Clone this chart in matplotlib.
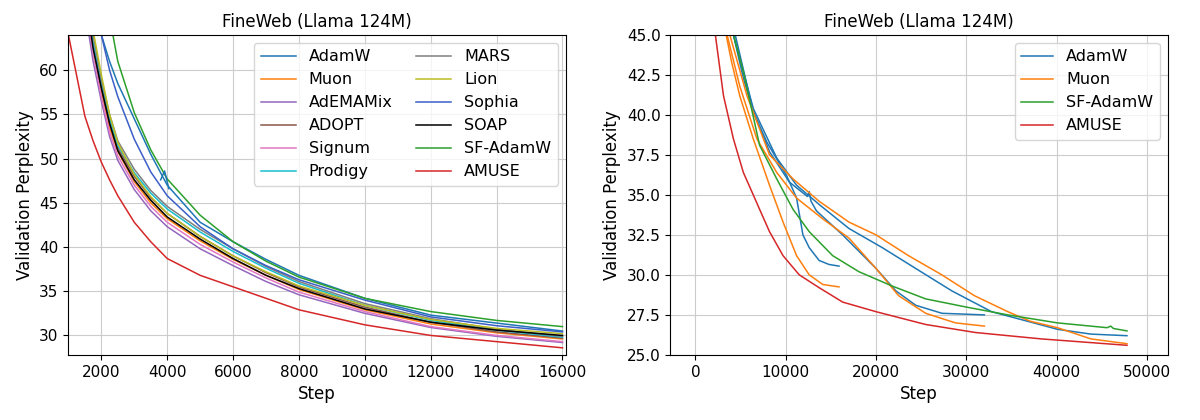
import numpy as np
import matplotlib
matplotlib.use("Agg")
import matplotlib.pyplot as plt

# ---- left panel: all optimizers, 16k steps ----
steps_l = [1000, 1500, 1750, 2000, 2250, 2500, 3000, 3500, 4000, 5000, 6000, 7000, 8000, 10000, 12000, 14000, 16000]
left_curves = {
    "AdamW":    ("#1f77b4", [90, 75, 68, 64, 61, 58.5, 54.5, 50.5, 47.0, 42.8, 40.6, 38.6, 36.8, 34.2, 32.3, 31.4, 30.5]),
    "Muon":     ("#ff7f0e", [85, 68, 62, 57.5, 53.5, 50.8, 47.4, 45.0, 43.2, 40.7, 38.6, 36.8, 35.2, 32.9, 31.3, 30.3, 29.6]),
    "AdEMAMix": ("#9467bd", [84, 67, 61, 56.5, 52.5, 49.8, 46.5, 44.1, 42.3, 39.8, 37.9, 36.1, 34.6, 32.5, 30.9, 29.9, 29.2]),
    "ADOPT":    ("#8c564b", [86, 69, 63, 58, 54, 51.2, 48.0, 45.6, 43.8, 41.2, 39.0, 37.1, 35.5, 33.2, 31.5, 30.4, 29.7]),
    "Signum":   ("#e377c2", [85, 68, 62, 57, 53, 50.3, 47.0, 44.6, 42.8, 40.3, 38.3, 36.5, 34.9, 32.7, 31.0, 30.0, 29.3]),
    "Prodigy":  ("#17becf", [86, 69, 63, 58.5, 54.5, 51.5, 48.4, 46.1, 44.3, 41.7, 39.5, 37.6, 35.9, 33.4, 31.7, 30.6, 29.8]),
    "MARS":     ("#7f7f7f", [87, 70, 64, 59, 55, 52, 48.8, 46.4, 44.6, 42.0, 39.8, 37.8, 36.1, 33.6, 31.9, 30.7, 29.9]),
    "Lion":     ("#bcbd22", [88, 71, 64.5, 59.5, 55, 51.8, 48.2, 45.7, 43.8, 41.2, 39.0, 37.2, 35.6, 33.4, 31.8, 30.8, 30.2]),
    "Sophia":   ("#3b5fc7", [95, 78, 70, 64, 60, 57, 52.2, 48.5, 45.8, 42.3, 39.8, 37.9, 36.3, 34.0, 32.1, 31.1, 30.4]),
    "SOAP":     ("#000000", [86, 69, 62.5, 58, 54, 50.9, 47.6, 45.3, 43.4, 40.9, 38.7, 36.8, 35.3, 33.0, 31.5, 30.6, 30.0]),
    "SF-AdamW": ("#2ca02c", [110, 90, 80, 72, 66, 61, 55.2, 51.0, 47.7, 43.6, 40.6, 38.4, 36.6, 34.2, 32.7, 31.7, 31.0]),
    "AMUSE":    ("#d62728", [64, 54.8, 52.0, 49.6, 47.6, 45.8, 42.8, 40.6, 38.7, 36.8, 35.5, 34.2, 32.9, 31.2, 30.0, 29.3, 28.6]),
}
adamw_spike_x = [3800, 3920, 4050]
adamw_spike_y = [47.6, 48.6, 46.6]

# ---- right panel: runs of several lengths ----
adamw_16k_x = [4200, 5300, 6400, 7900, 10100, 11200, 11900, 12600, 13700, 14800, 15900]
adamw_16k_y = [45, 42.3, 40.2, 38.3, 36.2, 34.8, 32.5, 31.7, 30.9, 30.65, 30.55]
adamw_32k_x = [4400, 6400, 8200, 10400, 12400, 12600, 12800, 13400, 16300, 20000, 22200, 24400, 27300, 32000]
adamw_32k_y = [45, 40.2, 37.7, 35.8, 34.9, 35.2, 34.6, 34.0, 32.5, 30.4, 29.0, 28.1, 27.6, 27.5]
adamw_48k_x = [4200, 6400, 9000, 11200, 13700, 17000, 20700, 24400, 28400, 32800, 36800, 40100, 43800, 47800]
adamw_48k_y = [45, 40.4, 37.3, 35.6, 34.4, 32.9, 31.7, 30.4, 29.0, 27.7, 27.1, 26.6, 26.3, 26.2]
muon_16k_x = [3400, 4000, 4900, 6400, 8200, 9700, 11200, 12600, 14100, 15900]
muon_16k_y = [45, 43.3, 41.2, 38.5, 35.6, 33.3, 31.2, 30.0, 29.4, 29.25]
muon_32k_x = [3500, 4900, 6800, 9000, 11200, 14100, 17000, 20000, 22500, 25500, 28800, 32000]
muon_32k_y = [45, 41.8, 38.5, 36.4, 34.8, 33.5, 32.3, 30.4, 28.7, 27.6, 27.0, 26.8]
muon_48k_x = [3800, 5700, 8200, 10800, 13700, 17000, 20000, 23600, 27300, 30900, 34600, 37100, 40100, 43800, 47800]
muon_48k_y = [45, 41.2, 37.5, 36.0, 34.6, 33.3, 32.5, 31.2, 30.0, 28.7, 27.7, 27.1, 26.7, 26.0, 25.7]
sf_x = [4200, 5300, 7100, 9000, 10800, 12600, 15200, 18100, 21800, 25500, 29900, 34600, 40100, 45600, 46000, 46300, 47800]
sf_y = [45, 42.7, 38.1, 36.0, 34.1, 32.7, 31.2, 30.2, 29.3, 28.5, 28.0, 27.5, 27.0, 26.7, 26.8, 26.65, 26.5]
amuse_x = [2200, 3100, 4200, 5300, 6400, 7100, 8200, 9700, 11500, 13700, 16300, 20000, 25500, 31000, 38300, 47800]
amuse_y = [45, 41.2, 38.5, 36.4, 35.0, 34.1, 32.7, 31.2, 30.0, 29.2, 28.3, 27.7, 26.9, 26.4, 26.0, 25.6]

fig, (ax1, ax2) = plt.subplots(1, 2, figsize=(12, 4.2), dpi=100)
plt.subplots_adjust(left=0.057, right=0.973, top=0.917, bottom=0.155, wspace=0.21)

for name, (col, vals) in left_curves.items():
    ax1.plot(steps_l, vals, color=col, lw=1.1, label=name)
ax1.plot(adamw_spike_x, adamw_spike_y, color="#1f77b4", lw=1.1)
ax1.set_xlim(1000, 16100)
ax1.set_ylim(27.8, 64)
ax1.set_xticks(range(2000, 16001, 2000))
ax1.set_yticks(range(30, 61, 5))
ax1.grid(True, color="#cccccc")
ax1.set_title("FineWeb (Llama 124M)", fontsize=12)
ax1.set_xlabel("Step", fontsize=12)
ax1.set_ylabel("Validation Perplexity", fontsize=12)
ax1.tick_params(labelsize=11)
ax1.legend(ncol=2, loc="upper right", fontsize=11.5, handlelength=2.2, columnspacing=1.5)

blue, orange, green, red = "#1f77b4", "#ff7f0e", "#2ca02c", "#d62728"
ax2.plot(adamw_16k_x, adamw_16k_y, color=blue, lw=1.1, label="AdamW")
ax2.plot(adamw_32k_x, adamw_32k_y, color=blue, lw=1.1)
ax2.plot(adamw_48k_x, adamw_48k_y, color=blue, lw=1.1)
ax2.plot(muon_16k_x, muon_16k_y, color=orange, lw=1.1, label="Muon")
ax2.plot(muon_32k_x, muon_32k_y, color=orange, lw=1.1)
ax2.plot(muon_48k_x, muon_48k_y, color=orange, lw=1.1)
ax2.plot(sf_x, sf_y, color=green, lw=1.1, label="SF-AdamW")
ax2.plot(amuse_x, amuse_y, color=red, lw=1.1, label="AMUSE")
ax2.set_xlim(-2800, 52300)
ax2.set_ylim(25, 45)
ax2.set_xticks(range(0, 50001, 10000))
ax2.set_yticks(np.arange(25, 45.1, 2.5))
ax2.grid(True, color="#cccccc")
ax2.set_title("FineWeb (Llama 124M)", fontsize=12)
ax2.set_xlabel("Step", fontsize=12)
ax2.set_ylabel("Validation Perplexity", fontsize=12)
ax2.tick_params(labelsize=11)
ax2.legend(loc="upper right", fontsize=11.5)

plt.savefig("out.png", dpi=100)
